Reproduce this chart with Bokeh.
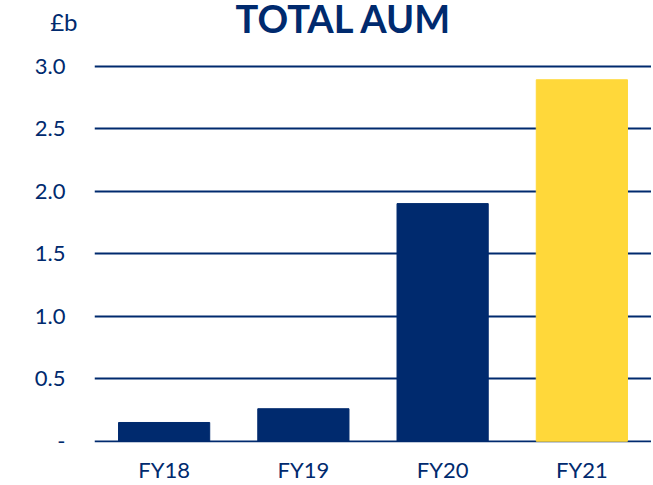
from bokeh.plotting import figure
from bokeh.layouts import column
from bokeh.models import FixedTicker, Range1d, FactorRange, ColumnDataSource
from bokeh.core.properties import value
from bokeh.embed import file_html
from bokeh.resources import INLINE

categories = ["FY18", "FY19", "FY20", "FY21"]
values = [0.15, 0.26, 1.90, 2.89]
colors = ["#002A6E", "#002A6E", "#002A6E", "#FFD83A"]
y_ticks = [0, 0.5, 1.0, 1.5, 2.0, 2.5, 3.0]
tick_labels = {0: "-", 0.5: "0.5", 1.0: "1.0", 1.5: "1.5",
               2.0: "2.0", 2.5: "2.5", 3.0: "3.0"}
title_text = "TOTAL AUM"
unit_text = "£b"

NAVY = "#002A6E"
FONT = "Lato"
LEFT = 94
FRAME_W = 557
HEAD_FRAME_H = 42
HEAD_BOTTOM = 4
MAIN_TOP = 12

# ---- header (title + unit) ----
head = figure(width=LEFT + FRAME_W, height=HEAD_FRAME_H + HEAD_BOTTOM,
              x_range=Range1d(LEFT, LEFT + FRAME_W), y_range=Range1d(HEAD_FRAME_H, 0),
              output_backend="svg", toolbar_location=None, title=None,
              x_axis_type=None,
              min_border_left=LEFT, min_border_right=0, min_border_top=0,
              min_border_bottom=HEAD_BOTTOM)
head.outline_line_color = None
head.xgrid.visible = False
head.ygrid.visible = False
hy = head.yaxis[0]
hy.axis_label = unit_text
hy.axis_label_orientation = "horizontal"
hy.axis_label_text_font = FONT
hy.axis_label_text_font_size = "24px"
hy.axis_label_text_font_style = "normal"
hy.axis_label_text_color = NAVY
hy.axis_label_standoff = 17
hy.major_label_text_font_size = "0px"
hy.major_tick_line_color = None
hy.minor_tick_line_color = None
hy.major_tick_out = 0
hy.axis_line_color = None
hy.ticker = FixedTicker(ticks=[])
head.text(x=[235], y=[17], text=[title_text], text_font=value(FONT),
          text_font_size="38px", text_font_style="bold", text_color=NAVY,
          text_align="left", text_baseline="alphabetic")

# ---- main chart ----
src = ColumnDataSource(dict(x=categories, top=values, color=colors))

p = figure(frame_width=FRAME_W, frame_height=384, x_range=FactorRange(*categories),
           y_range=Range1d(-0.01, 3.06), output_backend="svg", title=None,
           toolbar_location=None, min_border_left=LEFT, min_border_right=0,
           min_border_top=MAIN_TOP, min_border_bottom=30)

p.vbar(x="x", top="top", width=0.655, color="color", source=src)

p.outline_line_color = None
p.background_fill_color = "white"
p.border_fill_color = "white"

p.xgrid.grid_line_color = None
p.ygrid.grid_line_color = NAVY
p.ygrid.grid_line_width = 2
p.ygrid.level = "underlay"
p.yaxis.ticker = FixedTicker(ticks=y_ticks)
p.yaxis.major_label_overrides = tick_labels

for ax in (p.xaxis, p.yaxis):
    ax.axis_line_color = None
    ax.major_tick_line_color = None
    ax.minor_tick_line_color = None
    ax.major_tick_out = 0
    ax.major_tick_in = 0
    ax.major_label_text_color = NAVY
    ax.major_label_text_font = FONT
    ax.major_label_text_font_size = "22px"

p.yaxis.major_label_standoff = 29
p.xaxis.major_label_standoff = 13

layout = column(head, p, spacing=0)
open("out.html", "w").write(file_html(layout, INLINE))
